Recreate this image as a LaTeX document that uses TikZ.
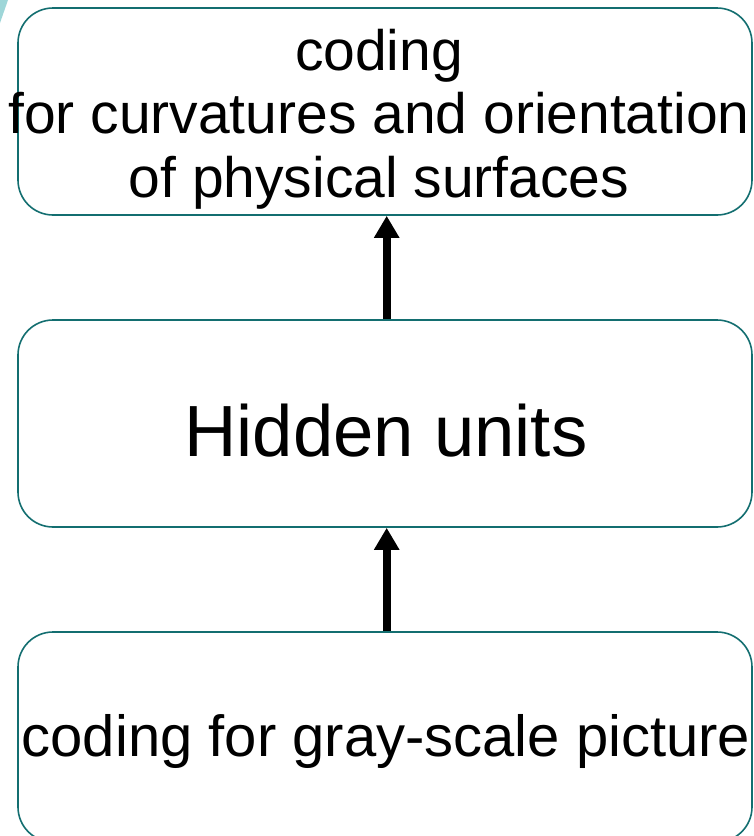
\documentclass[tikz,border=0pt]{standalone}
\usepackage{fontspec}
\setmainfont{Liberation Sans}
\usetikzlibrary{arrows.meta}
\definecolor{rim}{HTML}{136E70}
\definecolor{wedge}{HTML}{9ED6D8}
\tikzset{
  stagebox/.style={draw=rim, line width=1.6pt, rounded corners=35pt, fill=white,
    minimum width=734pt, inner sep=0pt},
  label/.style={inner sep=0pt, align=center, text=black},
  flow/.style={line width=8pt, -{Triangle[width=24pt,length=22pt]}, black}
}
\begin{document}
\begin{tikzpicture}[x=1pt, y=-1pt]
  \useasboundingbox (0,0) rectangle (754,836);
  \begin{scope}
    \clip (0,0) rectangle (754,836);
    % corner wedge
    \fill[wedge] (0,0) -- (8,0) -- (0,23) -- cycle;
    % three stages
    \node[stagebox, minimum height=207pt] (top) at (385,111.5) {};
    \node[stagebox, minimum height=207pt] (mid) at (385,423.5) {};
    \node[stagebox, minimum height=210pt] (bot) at (385,737) {};
  \end{scope}
  % texts
  \node[label, font=\fontsize{57}{63.5}\selectfont] (toptext) at (379,119)
    {coding\\for curvatures and orientation\\of physical surfaces};
  \node[label, font=\fontsize{72.5}{80}\selectfont] (midtext) at (386,431) {Hidden units};
  \node[label, font=\fontsize{58}{66}\selectfont] (bottext) at (386,741)
    {coding for gray-scale picture};
  % connectors
  \draw[flow] (bot.north -| 386.7,0) -- (mid.south -| 386.7,0);
  \draw[flow] (mid.north -| 386.7,0) -- (top.south -| 386.7,0);
\end{tikzpicture}
\end{document}
